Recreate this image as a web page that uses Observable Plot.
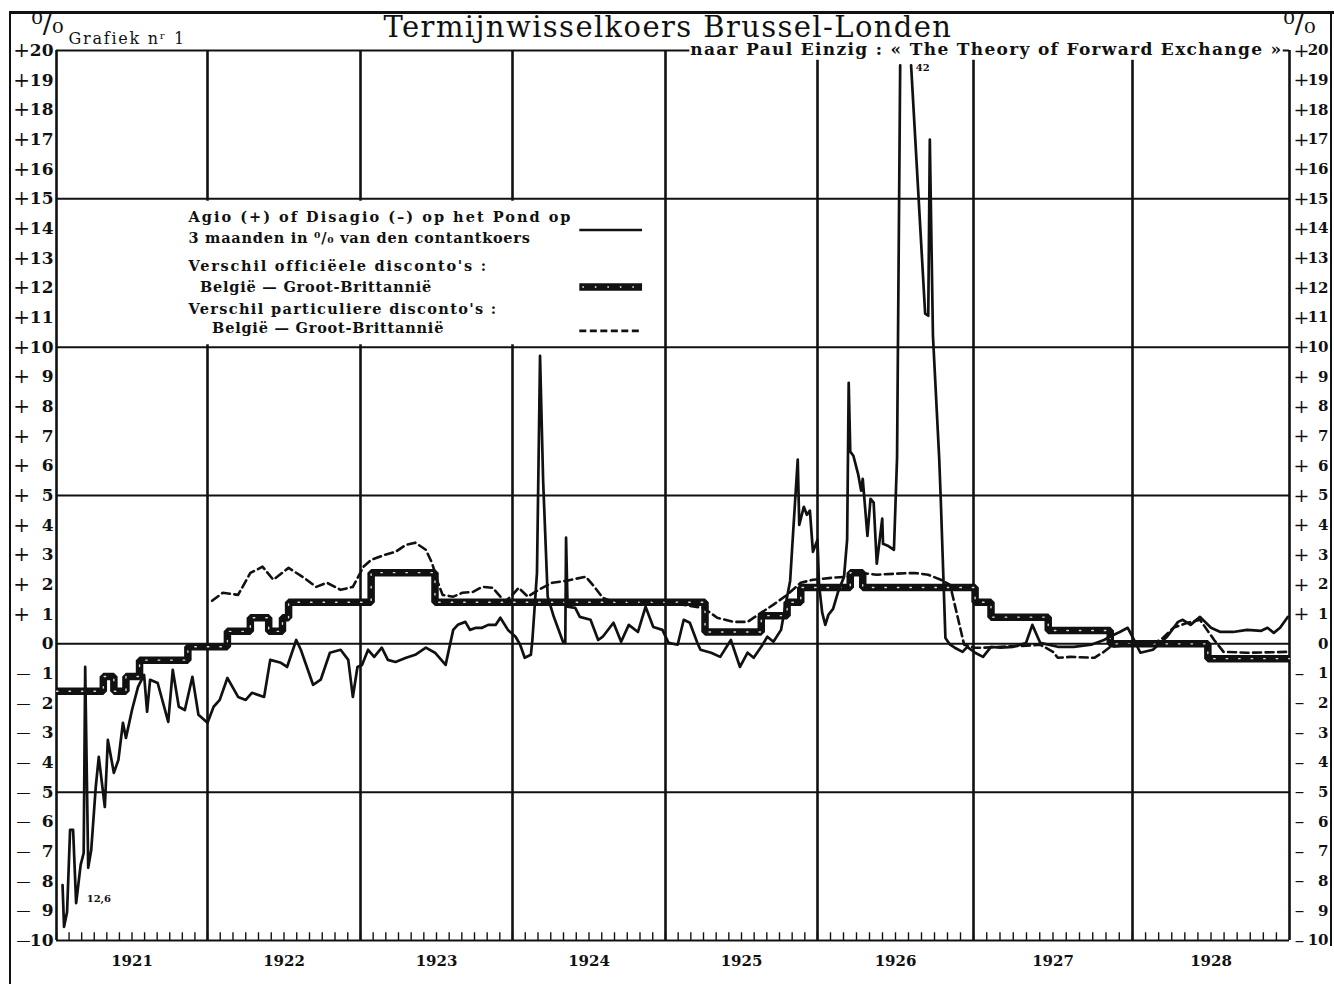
<!DOCTYPE html>
<html><head><meta charset="utf-8">
<script src="https://cdn.jsdelivr.net/npm/d3@7"></script>
<script src="https://cdn.jsdelivr.net/npm/@observablehq/plot@0.6"></script>
<style>
html,body{margin:0;padding:0;background:#fff;}
#wrap{position:relative;width:1334px;height:984px;overflow:hidden;background:#fff;}
#wrap svg{position:absolute;left:0;top:0;}
.bl{position:absolute;background:#111;}
</style></head><body><div id="wrap"></div>
<script>
// ---------- data (decimal year, percent) ----------
const years = [1921,1922,1923,1924,1925,1926,1927,1928,1929];
const yearLabels = ["1921","1922","1923","1924","1925","1926","1927","1928"];
const yTicks = d3.range(-10, 21);
const hGrid = [-10,-5,0,5,10,15];

// Agio (+) of Disagio (-) op het Pond op 3 maanden
const agio = [
[1921.04,-8.13],[1921.05,-9.54],[1921.07,-9.04],[1921.09,-6.27],[1921.11,-6.27],[1921.13,-8.74],
[1921.16,-7.45],[1921.18,-7.05],[1921.19,-0.78],[1921.21,-7.55],[1921.23,-6.95],[1921.26,-4.82],
[1921.28,-3.81],[1921.32,-5.50],[1921.34,-3.24],[1921.38,-4.35],[1921.41,-3.91],[1921.44,-2.66],
[1921.46,-3.17],[1921.50,-2.23],[1921.54,-1.45],[1921.58,-1.05],[1921.60,-2.29],[1921.62,-1.21],
[1921.67,-1.32],[1921.74,-2.63],[1921.77,-0.88],[1921.81,-2.12],[1921.85,-2.23],[1921.90,-1.11],
[1921.94,-2.39],[1922.00,-2.66],[1922.04,-2.12],[1922.08,-1.89],[1922.13,-1.15],[1922.20,-1.79],
[1922.25,-1.89],[1922.29,-1.65],[1922.37,-1.79],[1922.41,-0.54],[1922.48,-0.64],[1922.52,-0.78],
[1922.58,0.13],[1922.61,-0.20],[1922.69,-1.38],[1922.74,-1.21],[1922.80,-0.30],[1922.87,-0.20],
[1922.92,-0.54],[1922.95,-1.79],[1922.98,-0.78],[1923.01,-0.71],[1923.05,-0.20],[1923.09,-0.44],
[1923.14,-0.13],[1923.18,-0.54],[1923.23,-0.61],[1923.30,-0.47],[1923.36,-0.37],[1923.43,-0.13],
[1923.49,-0.30],[1923.56,-0.71],[1923.61,0.47],[1923.64,0.64],[1923.69,0.74],[1923.72,0.47],
[1923.76,0.54],[1923.80,0.54],[1923.84,0.64],[1923.89,0.64],[1923.92,0.88],[1923.97,0.47],
[1924.02,0.24],[1924.05,-0.03],[1924.08,-0.47],[1924.12,-0.37],[1924.13,0.13],[1924.16,2.39],
[1924.18,9.71],[1924.20,5.53],[1924.23,1.59],[1924.27,0.91],[1924.33,0.07],[1924.345,0.03],
[1924.35,3.58],[1924.36,1.25],[1924.41,1.21],[1924.44,0.91],[1924.51,0.81],[1924.56,0.13],
[1924.59,0.24],[1924.66,0.71],[1924.71,0.07],[1924.76,0.64],[1924.82,0.40],[1924.87,1.25],
[1924.92,0.57],[1924.98,0.47],[1925.02,0.03],[1925.08,-0.03],[1925.12,0.81],[1925.16,0.71],
[1925.21,0.03],[1925.23,-0.20],[1925.30,-0.30],[1925.36,-0.44],[1925.43,0.13],[1925.49,-0.78],
[1925.54,-0.30],[1925.58,-0.47],[1925.63,-0.10],[1925.67,0.24],[1925.71,0.07],[1925.76,0.47],
[1925.79,1.32],[1925.82,2.12],[1925.84,3.78],[1925.87,6.21],[1925.88,4.01],[1925.91,4.62],
[1925.93,4.35],[1925.95,4.49],[1925.97,3.10],[1926.00,3.51],[1926.01,1.99],[1926.03,1.05],
[1926.05,0.64],[1926.07,0.98],[1926.10,1.18],[1926.13,1.72],[1926.17,2.26],[1926.19,3.51],
[1926.20,8.80],[1926.21,6.48],[1926.23,6.34],[1926.26,5.73],[1926.28,5.16],[1926.29,5.56],
[1926.32,3.64],[1926.34,4.89],[1926.36,4.76],[1926.38,2.70],[1926.415,4.22],[1926.42,3.37],
[1926.45,3.31],[1926.49,3.17],[1926.51,6.27],[1926.53,19.5],[1926.56,NaN],[1926.60,19.5],
[1926.69,11.13],[1926.71,11.06],[1926.72,17.0],[1926.74,10.39],[1926.78,6.27],[1926.79,4.89],
[1926.82,0.20],[1926.85,-0.03],[1926.88,-0.13],[1926.93,-0.27],[1926.96,-0.10],[1927.01,-0.30],
[1927.06,-0.44],[1927.11,-0.10],[1927.17,-0.13],[1927.25,-0.10],[1927.33,0.03],[1927.37,0.64],
[1927.42,0.03],[1927.53,-0.10],[1927.63,-0.10],[1927.74,-0.03],[1927.82,0.13],[1927.88,0.30],
[1927.92,0.40],[1927.97,0.54],[1928.01,0.13],[1928.05,-0.30],[1928.13,-0.20],[1928.22,0.24],
[1928.29,0.74],[1928.32,0.81],[1928.37,0.64],[1928.43,0.91],[1928.50,0.54],[1928.56,0.40],
[1928.64,0.40],[1928.73,0.47],[1928.82,0.44],[1928.86,0.54],[1928.90,0.37],[1928.94,0.54],
[1928.99,0.91]
];

// Verschil officieele disconto's Belgie - Groot-Brittannie (step function)
const official = [
[1921.00,-1.6],[1921.31,-1.1],[1921.38,-1.6],[1921.46,-1.1],[1921.55,-0.55],[1921.87,-0.1],
[1922.13,0.42],[1922.28,0.88],[1922.40,0.42],[1922.49,0.88],[1922.53,1.4],[1923.07,2.4],
[1923.49,1.4],[1925.26,0.4],[1925.63,0.95],[1925.80,1.4],[1925.89,1.9],[1926.21,2.4],
[1926.29,1.9],[1927.01,1.4],[1927.11,0.9],[1927.47,0.45],[1927.86,0.0],[1928.48,-0.5],
[1929.00,-0.5]
];

// Verschil particuliere disconto's Belgie - Groot-Brittannie
const privateRate = [
[1922.03,1.45],[1922.10,1.72],[1922.20,1.65],[1922.28,2.39],[1922.36,2.60],[1922.43,2.16],
[1922.53,2.56],[1922.63,2.23],[1922.71,1.92],[1922.78,2.06],[1922.87,1.82],[1922.95,1.92],
[1923.02,2.60],[1923.07,2.83],[1923.16,3.00],[1923.23,3.10],[1923.30,3.34],[1923.36,3.41],
[1923.43,3.17],[1923.47,2.73],[1923.51,2.06],[1923.54,1.65],[1923.61,1.59],[1923.67,1.72],
[1923.74,1.75],[1923.80,1.92],[1923.87,1.89],[1923.91,1.65],[1923.95,1.42],[1924.00,1.65],
[1924.04,1.89],[1924.10,1.59],[1924.17,1.82],[1924.26,2.06],[1924.35,2.12],[1924.41,2.19],
[1924.48,2.26],[1924.54,1.89],[1924.59,1.55],[1924.64,1.45],[1924.84,1.42],[1924.97,1.45],
[1925.16,1.28],[1925.25,1.21],[1925.34,0.88],[1925.45,0.74],[1925.54,0.74],[1925.63,1.05],
[1925.71,1.32],[1925.80,1.65],[1925.89,2.06],[1925.97,2.16],[1926.10,2.23],[1926.19,2.26],
[1926.28,2.39],[1926.38,2.33],[1926.49,2.36],[1926.62,2.39],[1926.71,2.33],[1926.79,2.16],
[1926.85,1.99],[1926.94,-0.03],[1927.01,-0.13],[1927.06,-0.13],[1927.17,-0.10],[1927.30,-0.07],
[1927.42,-0.03],[1927.50,-0.27],[1927.53,-0.47],[1927.61,-0.44],[1927.76,-0.47],[1927.82,-0.27],
[1927.86,-0.10],[1927.99,-0.03],[1928.11,0.0],[1928.18,0.13],[1928.26,0.54],[1928.35,0.71],
[1928.43,0.81],[1928.52,0.13],[1928.58,-0.27],[1928.73,-0.30],[1929.00,-0.27]
];

const annotations = [
  {x: 1921.2, y: -8.6, text: "12,6"},
  {x: 1926.63, y: 19.42, text: "42"}
];

const legendLines = [
  "Agio (+) of Disagio (–) op het Pond op",
  "3 maanden in \u2070/\u2080 van den contantkoers",
  "Verschil officiëele disconto's :",
  "België — Groot-Brittannië",
  "Verschil particuliere disconto's :",
  "België — Groot-Brittannië"
];
const title = "Termijnwisselkoers Brussel-Londen";
const subtitle = "naar Paul Einzig : « The Theory of Forward Exchange »";
const chartNo = "Grafiek n\u02b3 1";

// ---------- chart ----------
const toRows = a => a.map(([x, y]) => ({x, y}));
const agioRows = toRows(agio), offRows = toRows(official), privRows = toRows(privateRate);
const monthTicks = d3.range(0, 96).map(i => 1921 + i / 12);

// legend layout (data coordinates) and target text widths in px
const legX = [1921.874, 1921.874, 1921.874, 1921.95, 1921.874, 1922.03];
const legY = [14.36, 13.68, 12.71, 12.03, 11.29, 10.62];
const legW = [384, 342, 299, 232, 309, 233];
// vertical year lines under the subtitle start just below it
const underSubtitle = d => d > 1925.16 && d < 1928.96;

const ink = "#111";
const T = {lineAnchor: "middle"};
const plot = Plot.plot({
  width: 1334, height: 984,
  marginLeft: 56, marginRight: 45, marginTop: 50, marginBottom: 44,
  style: {fontFamily: "'DejaVu Serif', serif", fontSize: "15px", background: "transparent", color: ink},
  x: {type: "linear", domain: years, range: [56,207,360,512,665,817,973,1132,1289], axis: null},
  y: {domain: [-10, 20], axis: null},
  marks: [
    Plot.ruleY(hGrid, {stroke: ink, strokeWidth: 2}),
    // top (+20) line, interrupted by the subtitle
    Plot.ruleY([20], {x1: 1921, x2: 1925.16, stroke: ink, strokeWidth: 2}),
    Plot.ruleY([20], {x1: 1928.96, x2: 1929, stroke: ink, strokeWidth: 2}),
    Plot.ruleX(years, {y1: -10, y2: d => underSubtitle(d) ? 19.67 : 20, stroke: ink, strokeWidth: 2.6}),
    Plot.rect([0], {x1: 1921.7, x2: 1924.95, y1: 10.08, y2: 14.92, fill: "white"}),
    Plot.ruleX(monthTicks, {y1: -10, y2: -9.74, stroke: ink, strokeWidth: 1.4}),
    // official rate difference (thick step)
    Plot.line(offRows, {x: "x", y: "y", curve: "step-after", stroke: ink, strokeWidth: 7.5, strokeLinejoin: "miter", strokeLinecap: "butt"}),
    Plot.line(offRows, {x: "x", y: "y", curve: "step-after", stroke: "white", strokeWidth: 1.4, strokeDasharray: "1.5 11", strokeOpacity: 0.85}),
    // private rate difference (dashed)
    Plot.line(privRows, {x: "x", y: "y", stroke: ink, strokeWidth: 2.6, strokeDasharray: "8 4.5"}),
    // agio
    Plot.line(agioRows, {x: "x", y: "y", stroke: ink, strokeWidth: 2.7, strokeLinejoin: "round"}),
    // annotations
    Plot.text(annotations, {...T, x: "x", y: "y", text: "text", textAnchor: "start", fontSize: 10, fontWeight: "bold"}),
    // legend
    Plot.text(legendLines, {...T, x: (d, i) => legX[i], y: (d, i) => legY[i], text: d => d, textAnchor: "start", fontSize: 14.5, fontWeight: "bold"}),
    Plot.ruleY([13.95], {x1: 1924.44, x2: 1924.85, stroke: ink, strokeWidth: 2.6}),
    Plot.ruleY([12.03], {x1: 1924.44, x2: 1924.85, stroke: ink, strokeWidth: 7.5}),
    Plot.ruleY([12.03], {x1: 1924.46, x2: 1924.83, stroke: "white", strokeWidth: 1.4, strokeDasharray: "1.5 11"}),
    Plot.ruleY([10.55], {x1: 1924.44, x2: 1924.85, stroke: ink, strokeWidth: 2.6, strokeDasharray: "7 3.5"}),
    // left axis labels
    Plot.text(yTicks, {...T, y: d => d, text: d => String(Math.abs(d)), frameAnchor: "left", dx: -3, textAnchor: "end", fontSize: 17, fontWeight: "bold"}),
    Plot.text(yTicks.filter(d => d > 0), {...T, y: d => d, text: () => "+", frameAnchor: "left", dx: -35, textAnchor: "middle", fontSize: 20}),
    Plot.text(yTicks.filter(d => d < 0), {...T, y: d => d, text: () => "—", frameAnchor: "left", dx: -33, textAnchor: "middle", fontSize: 14}),
    // right axis labels
    Plot.text(yTicks, {...T, y: d => d, text: d => String(Math.abs(d)), frameAnchor: "right", dx: 39, textAnchor: "end", fontSize: 15, fontWeight: "bold"}),
    Plot.text(yTicks.filter(d => d > 0), {...T, y: d => d, text: () => "+", frameAnchor: "right", dx: 12, textAnchor: "middle", fontSize: 19}),
    Plot.text(yTicks.filter(d => d < 0), {...T, y: d => d, text: () => "–", frameAnchor: "right", dx: 10, textAnchor: "middle", fontSize: 19}),
    // year labels
    Plot.text(yearLabels, {...T, x: (d, i) => years[i] + 0.5, text: d => d, frameAnchor: "bottom", dy: 21, fontSize: 15, fontWeight: "bold"}),
    // titles
    Plot.text([title], {...T, frameAnchor: "top", dx: -5, dy: -23, fontSize: 29}),
    Plot.text([chartNo], {...T, frameAnchor: "top-left", dx: 12, dy: -12, textAnchor: "start", fontSize: 16}),
    Plot.text([subtitle], {...T, frameAnchor: "top-right", dx: -7, dy: -1, textAnchor: "end", fontSize: 17, fontWeight: "bold"}),
    Plot.text(["\u2070/\u2080"], {...T, frameAnchor: "top-left", dx: -25, dy: -26, fontSize: 28}),
    Plot.text(["\u2070/\u2080"], {...T, frameAnchor: "top-right", dx: 26, dy: -26, fontSize: 28})
  ]
});

const wrap = document.getElementById("wrap");
wrap.appendChild(plot);
// fit some text widths to the reference by letter spacing
const fit = (t, target) => {
  const len = t.getComputedTextLength();
  t.setAttribute("letter-spacing", ((target - len) / t.textContent.length).toFixed(2));
};
plot.querySelectorAll("text").forEach(t => {
  const s = t.textContent;
  const i = legendLines.indexOf(s);
  if (i >= 0) fit(t, legW[i]);
  else if (s === subtitle) fit(t, 592);
  else if (s === chartNo) fit(t, 117);
  else if (s === title) fit(t, 569);
});
// outer frame
["left:9px;top:11px;width:2px;height:973px", "left:9px;top:11px;width:1325px;height:3px", "left:1330px;top:11px;width:2px;height:935px"]
  .forEach(css => { const d = document.createElement("div"); d.className = "bl"; d.style.cssText = css; wrap.appendChild(d); });
</script></body></html>
